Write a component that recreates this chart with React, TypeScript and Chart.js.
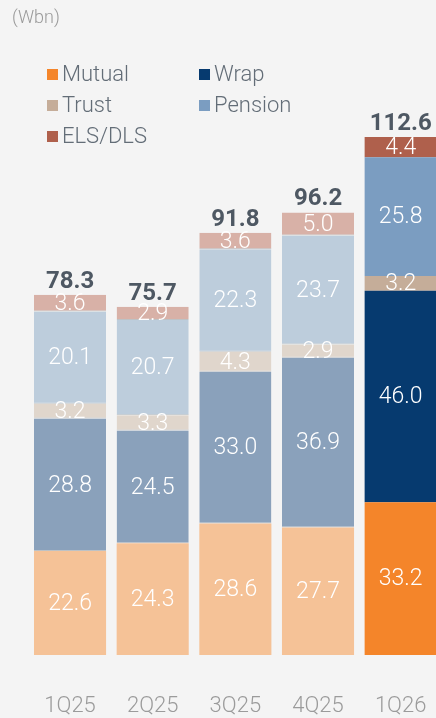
import React, { useEffect, useRef } from "react";
import { Chart, registerables } from "chart.js";

Chart.register(...registerables);

const categories = ["1Q25", "2Q25", "3Q25", "4Q25", "1Q26"];
const mutual = [22.6, 24.3, 28.6, 27.7, 33.2];
const wrap = [28.8, 24.5, 33.0, 36.9, 46.0];
const trust = [3.2, 3.3, 4.3, 2.9, 3.2];
const pension = [20.1, 20.7, 22.3, 23.7, 25.8];
const elsDls = [3.6, 2.9, 3.6, 5.0, 4.4];
const totals = ["78.3", "75.7", "91.8", "96.2", "112.6"];

const seriesNames = ["Mutual", "Wrap", "Trust", "Pension", "ELS/DLS"];
const fullColors = ["#f4852a", "#063a6f", "#c5ad99", "#7b9dc1", "#af604c"];
const fadedColors = ["#f5c297", "#8aa1bb", "#e0d6cc", "#bdcddc", "#d8b1a7"];

const FONT = "Roboto, 'Noto Sans', sans-serif";
const CW = 442;
const CH = 718;

export default function App() {
  const ref = useRef<HTMLCanvasElement | null>(null);

  useEffect(() => {
    if (!ref.current) return;
    const seriesData = [mutual, wrap, trust, pension, elsDls];
    const datasets = seriesData.map((d, si) => ({
      label: seriesNames[si],
      data: d,
      backgroundColor: d.map((_, i) => (i < 4 ? fadedColors[si] : fullColors[si])),
      borderColor: d.map((_, i) => (i < 4 ? "rgba(90,100,110,0.35)" : "rgba(0,0,0,0)")),
      borderWidth: d.map((_, i) => (i < 4 && si > 0 ? { top: 0, bottom: 1, left: 0, right: 0 } : 0)),
      borderSkipped: false,
      categoryPercentage: 1,
      barPercentage: 0.872,
    }));

    const labelPlugin = {
      id: "labels",
      afterDatasetsDraw(chart: any) {
        const ctx = chart.ctx;
        ctx.save();
        ctx.textAlign = "center";
        chart.data.datasets.forEach((ds: any, di: number) => {
          const meta = chart.getDatasetMeta(di);
          meta.data.forEach((bar: any, i: number) => {
            const v = ds.data[i];
            const y = (bar.y + bar.base) / 2;
            ctx.fillStyle = "#ffffff";
            ctx.font = `300 23px ${FONT}`;
            ctx.textBaseline = "middle";
            ctx.fillText(v.toFixed(1), bar.x, y + 1);
          });
        });
        const lastMeta = chart.getDatasetMeta(chart.data.datasets.length - 1);
        lastMeta.data.forEach((bar: any, i: number) => {
          ctx.fillStyle = "#4e5863";
          ctx.font = `bold 24px ${FONT}`;
          ctx.textBaseline = "alphabetic";
          ctx.fillText(totals[i], bar.x, bar.y - 7);
        });
        ctx.restore();
      },
    };

    const chart = new Chart(ref.current, {
      type: "bar",
      data: { labels: categories, datasets },
      options: {
        animation: false,
        responsive: false,
        devicePixelRatio: 1,
        layout: { padding: { top: 103, left: 28.7, right: 0, bottom: 0 } },
        plugins: { legend: { display: false }, tooltip: { enabled: false } },
        scales: {
          x: {
            stacked: true,
            grid: { display: false, drawTicks: false },
            border: { display: false },
            ticks: {
              color: "#9b9b9b",
              font: { family: FONT, size: 22, weight: "300" as any },
              padding: 38.5,
              maxRotation: 0,
              autoSkip: false,
            },
            afterFit: (scale: any) => {
              scale.height = 63;
              scale.paddingLeft = 0;
              scale.paddingRight = 0;
            },
          },
          y: {
            stacked: true,
            display: false,
            min: 0,
            max: 120,
          },
        },
      },
      plugins: [labelPlugin],
    });
    return () => chart.destroy();
  }, []);

  const legendItems = [
    { name: "Mutual", color: fullColors[0], x: 47, y: 69 },
    { name: "Wrap", color: fullColors[1], x: 199, y: 69 },
    { name: "Trust", color: fullColors[2], x: 47, y: 100 },
    { name: "Pension", color: fullColors[3], x: 199, y: 100 },
    { name: "ELS/DLS", color: fullColors[4], x: 47, y: 131 },
  ];

  return (
    <div
      style={{
        position: "fixed",
        left: 0,
        top: 0,
        width: 436,
        height: 718,
        overflow: "hidden",
        background: "#f4f4f4",
        fontFamily: FONT,
      }}
    >
      <canvas
        ref={ref}
        width={CW}
        height={CH}
        style={{ position: "absolute", left: 0, top: 0, width: CW, height: CH }}
      />
      <div
        style={{
          position: "absolute",
          left: 12,
          top: 7,
          fontSize: 18,
          fontWeight: 300,
          color: "#9a9a9a",
          lineHeight: "20px",
        }}
      >
        (Wbn)
      </div>
      {legendItems.map((it) => (
        <div key={it.name}>
          <div
            style={{
              position: "absolute",
              left: it.x,
              top: it.y,
              width: 11,
              height: 11,
              background: it.color,
            }}
          />
          <div
            style={{
              position: "absolute",
              left: it.x + 15,
              top: it.y - 8,
              fontSize: 22,
              fontWeight: 300,
              color: "#636d77",
              lineHeight: "26px",
              whiteSpace: "nowrap",
            }}
          >
            {it.name}
          </div>
        </div>
      ))}
    </div>
  );
}
